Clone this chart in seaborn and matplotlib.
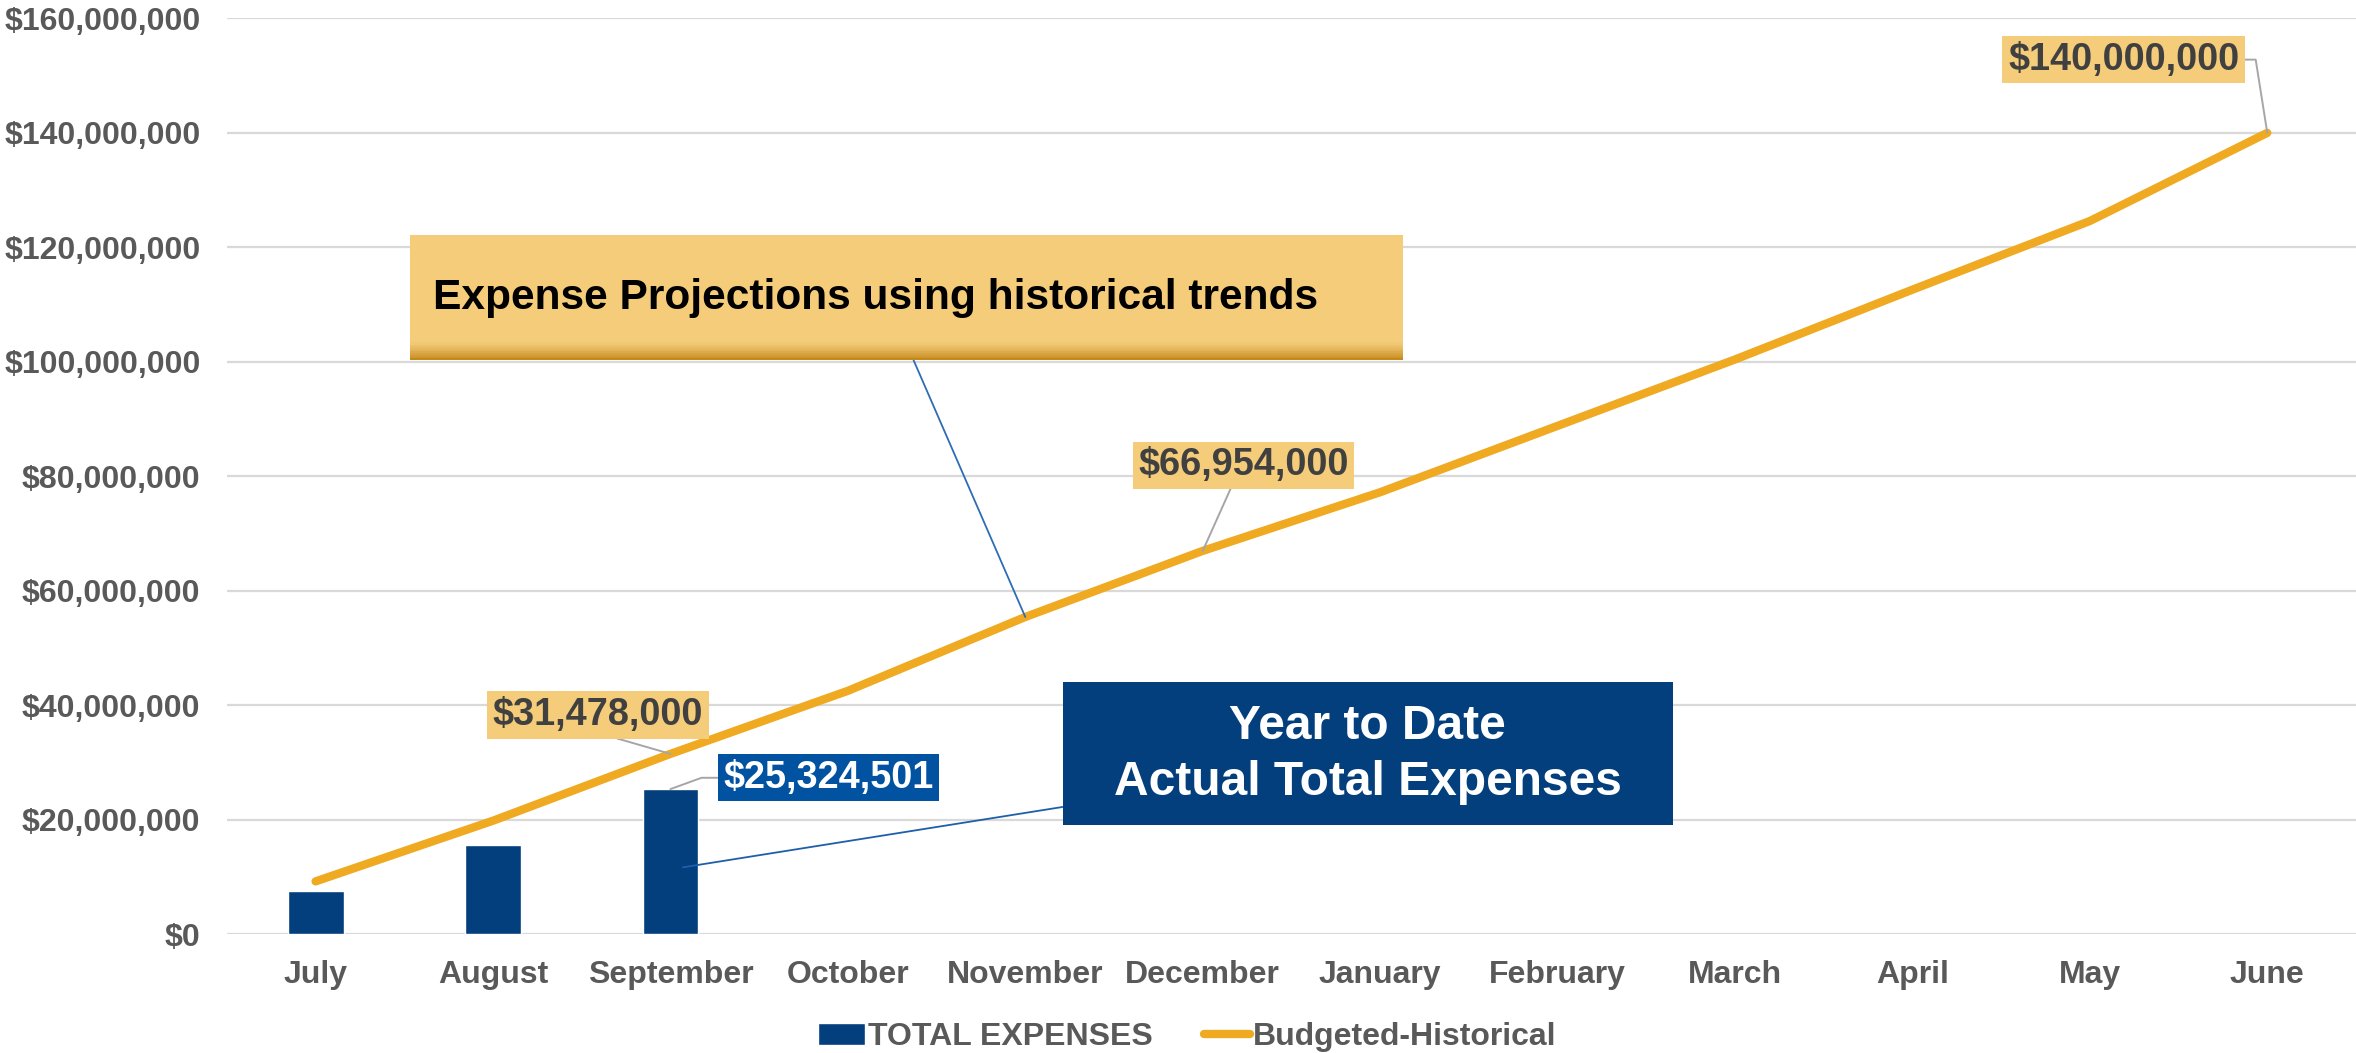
import numpy as np
import pandas as pd
import matplotlib.pyplot as plt
import seaborn as sns
from matplotlib.patches import Rectangle
from matplotlib.colors import to_rgb
from matplotlib.ticker import FuncFormatter

# data
months = ['July', 'August', 'September', 'October', 'November', 'December',
          'January', 'February', 'March', 'April', 'May', 'June']
actual_months = ['July', 'August', 'September']
actual_expenses = [7_430_000, 15_600_000, 25_324_501]
budget_historical = [9_200_000, 19_800_000, 31_478_000, 42_500_000, 55_400_000,
                     66_954_000, 77_200_000, 88_800_000, 100_400_000,
                     112_600_000, 124_600_000, 140_000_000]
y_ticks = [0, 20e6, 40e6, 60e6, 80e6, 100e6, 120e6, 140e6, 160e6]

navy = '#033F7C'
label_blue = '#0152A0'
gold = '#EFAA22'
light_gold = '#F4CC7A'
grey_text = '#595959'

sns.set_style('white')
plt.rcParams['font.family'] = ['Liberation Sans', 'DejaVu Sans']
plt.rcParams['font.weight'] = 'bold'

df_actual = pd.DataFrame({'month': actual_months, 'expense': actual_expenses})
df_budget = pd.DataFrame({'pos': np.arange(len(months)), 'budget': budget_historical})

fig = plt.figure(figsize=(23.56, 10.53), dpi=100)
ax = fig.add_axes([0.0963, 0.113, 0.9037, 0.8695])

sns.barplot(data=df_actual, x='month', y='expense', order=months, color=navy,
            saturation=1, width=0.315, label='TOTAL EXPENSES', ax=ax, zorder=2)
sns.lineplot(data=df_budget, x='pos', y='budget', color=gold, linewidth=6,
             solid_capstyle='round', label='Budgeted-Historical', ax=ax, zorder=3)

ax.set_xlim(-0.5, len(months) - 0.5)
ax.set_ylim(0, 160e6)
ax.set_xticks(range(len(months)))
ax.set_xticklabels(months)
ax.set_yticks(y_ticks)
ax.yaxis.set_major_formatter(FuncFormatter(lambda v, p: '${:,.0f}'.format(v)))
ax.set_xlabel('')
ax.set_ylabel('')
ax.tick_params(length=0, labelsize=23, labelcolor=grey_text, pad=19)
ax.grid(axis='y', color='#D9D9D9', linewidth=1.6)
ax.set_axisbelow(True)
sns.despine(ax=ax, left=True, bottom=True)

# legend at the bottom, bars first
handles, labels = ax.get_legend_handles_labels()
order = [labels.index('TOTAL EXPENSES'), labels.index('Budgeted-Historical')]
ax.get_legend().remove()
fig.legend([handles[i] for i in order], [labels[i] for i in order], loc='center',
           bbox_to_anchor=(0.504, 0.015), ncol=2, frameon=False, fontsize=23,
           labelcolor=grey_text, handlelength=1.45, handletextpad=0.1, columnspacing=1.6)

# "Expense Projections" call-out box with a darker band at the bottom
x0, x1, y0, y1 = 0.53, 6.13, 100.3e6, 122.2e6
ax.add_patch(Rectangle((x0, y0), x1 - x0, y1 - y0, facecolor=light_gold,
                       edgecolor='none', zorder=5))
c_top = np.array(to_rgb(light_gold))
c_bot = np.array(to_rgb('#C68A1C'))
band = 3.6e6
n = 12
for i in range(n):
    t = i / (n - 1)
    col = c_top + (c_bot - c_top) * t ** 1.5
    ax.add_patch(Rectangle((x0, y0 + band * (1 - (i + 1) / n)), x1 - x0, band / n,
                           facecolor=col, edgecolor='none', zorder=5))
ax.text(0.66, 111.2e6, 'Expense Projections using historical trends', fontsize=30.6,
        color='black', ha='left', va='center', zorder=6)
ax.annotate('', xy=(4, budget_historical[4]), xytext=(3.37, y0),
            arrowprops=dict(arrowstyle='-', color='#2E6DB4', lw=1.3,
                            shrinkA=0, shrinkB=0), zorder=4)

# "Year to Date" call-out box
bx0, bx1, by0, by1 = 4.21, 7.65, 19.1e6, 44.1e6
ax.add_patch(Rectangle((bx0, by0), bx1 - bx0, by1 - by0, facecolor=navy,
                       edgecolor='none', zorder=5))
ax.text((bx0 + bx1) / 2, 31.4e6, 'Year to Date\nActual Total Expenses', fontsize=34.5,
        color='white', ha='center', va='center', linespacing=1.32, zorder=6)
ax.annotate('', xy=(2.07, actual_expenses[2] * 0.46), xytext=(bx0, 22.2e6),
            arrowprops=dict(arrowstyle='-', color='#1F5FAA', lw=1.3,
                            shrinkA=0, shrinkB=0), zorder=4)

# data labels
def money(v):
    return '${:,.0f}'.format(v)

lead = dict(arrowstyle='-', color='#A6A6A6', lw=1.4, shrinkA=0, shrinkB=0)
gold_box = dict(boxstyle='square,pad=0.15', fc=light_gold, ec='none')
lsize = 27.3

ax.annotate(money(budget_historical[2]), xy=(2, budget_historical[2]), xytext=(1.59, 38.3e6),
            ha='center', va='center', fontsize=lsize, color='#404040', bbox=gold_box,
            arrowprops=dict(lead, relpos=(0.5, 0)), zorder=7)
ax.annotate(money(budget_historical[5]), xy=(5, budget_historical[5]), xytext=(5.23, 81.9e6),
            ha='center', va='center', fontsize=lsize, color='#404040', bbox=gold_box,
            arrowprops=dict(lead, relpos=(0.45, 0)), zorder=7)
ax.annotate(money(budget_historical[11]), xy=(11, budget_historical[11]), xytext=(10.19, 152.8e6),
            ha='center', va='center', fontsize=lsize, color='#404040', bbox=gold_box,
            arrowprops=dict(lead, relpos=(1, 0.5),
                            connectionstyle='angle,angleA=0,angleB=99,rad=0'), zorder=7)
ax.annotate(money(actual_expenses[2]), xy=(2, actual_expenses[2]), xytext=(2.89, 27.3e6),
            ha='center', va='center', fontsize=lsize, color='white',
            bbox=dict(boxstyle='square,pad=0.15', fc=label_blue, ec='none'),
            arrowprops=dict(lead, relpos=(0, 0.5),
                            connectionstyle='angle,angleA=0,angleB=20,rad=0'), zorder=7)

fig.savefig('out.png', dpi=100)
